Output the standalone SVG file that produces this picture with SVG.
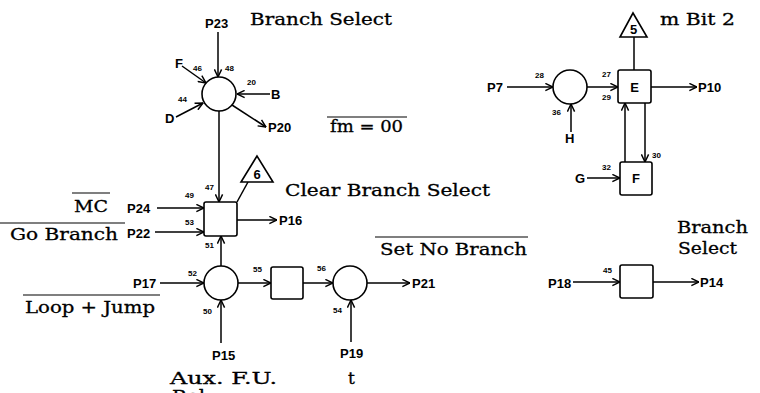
<svg xmlns="http://www.w3.org/2000/svg" width="760" height="393" viewBox="0 0 760 393">
<defs>
<marker id="arr" viewBox="0 0 10 10" refX="9.5" refY="5" markerWidth="9" markerHeight="9" markerUnits="userSpaceOnUse" orient="auto">
<path d="M1,1 L9.5,5 L1,9" fill="none" stroke="#000" stroke-width="1.6"/>
</marker>
</defs>
<style>
.ln{stroke:#000;stroke-width:1.5;fill:none}
.ar{marker-end:url(#arr)}
.nd{stroke:#000;stroke-width:1.6;fill:#fff}
.lb{font-family:"Liberation Sans",Arial,sans-serif;font-weight:bold;font-size:13px;fill:#000}
.sm{font-family:"Liberation Sans",Arial,sans-serif;font-weight:bold;font-size:8px;fill:#000}
.sr{font-family:"DejaVu Serif","Liberation Serif",serif;font-size:17px;fill:#000;stroke:#000;stroke-width:0.3}
.ov{stroke:#000;stroke-width:1.2}
</style>
<rect width="760" height="393" fill="#fff"/>
<g id="connectors">
<line class="ln ar" x1="218" y1="32" x2="218" y2="77"/>
<line class="ln ar" x1="182" y1="66" x2="206" y2="83"/>
<line class="ln ar" x1="270" y1="94" x2="237" y2="94"/>
<line class="ln ar" x1="176" y1="117" x2="203" y2="103"/>
<line class="ln ar" x1="232" y1="105" x2="266" y2="127"/>
<line class="ln ar" x1="219" y1="111" x2="219" y2="202"/>
<line class="ln ar" x1="157" y1="208" x2="204" y2="208"/>
<line class="ln ar" x1="155" y1="232" x2="204" y2="232"/>
<line class="ln ar" x1="237" y1="220" x2="277" y2="220"/>
<line class="ln" x1="248" y1="182" x2="237" y2="202"/>
<line class="ln ar" x1="221" y1="266" x2="221" y2="236"/>
<line class="ln ar" x1="160" y1="283" x2="204" y2="283"/>
<line class="ln ar" x1="221" y1="343" x2="221" y2="300"/>
<line class="ln ar" x1="238" y1="283" x2="271" y2="283"/>
<line class="ln ar" x1="303" y1="283" x2="333" y2="283"/>
<line class="ln ar" x1="367" y1="283" x2="410" y2="283"/>
<line class="ln ar" x1="351" y1="342" x2="351" y2="300"/>
<line class="ln ar" x1="507" y1="87" x2="553" y2="87"/>
<line class="ln ar" x1="587" y1="87" x2="618" y2="87"/>
<line class="ln ar" x1="571" y1="132" x2="571" y2="104"/>
<line class="ln ar" x1="651" y1="87" x2="697" y2="87"/>
<line class="ln" x1="634" y1="37" x2="634" y2="70"/>
<line class="ln ar" x1="625" y1="162" x2="625" y2="103"/>
<line class="ln ar" x1="645" y1="103" x2="645" y2="162"/>
<line class="ln ar" x1="587" y1="178" x2="620" y2="178"/>
<line class="ln ar" x1="573" y1="282" x2="620" y2="282"/>
<line class="ln ar" x1="653" y1="282" x2="699" y2="282"/>
</g>
<g id="branch-select-circle"><circle class="nd" cx="219" cy="94" r="17"/></g>
<g id="go-branch-box"><rect class="nd" x="204" y="202" width="33" height="34" rx="2"/></g>
<g id="tri-6"><polygon class="nd" points="257,156 241,182 273,182"/><text class="lb" x="257" y="179" text-anchor="middle" font-size="12">6</text></g>
<g id="loop-circle"><circle class="nd" cx="221" cy="283" r="17"/></g>
<g id="mid-box"><rect class="nd" x="271" y="267" width="32" height="32" rx="2"/></g>
<g id="no-branch-circle"><circle class="nd" cx="350" cy="283" r="17"/></g>
<g id="p7-circle"><circle class="nd" cx="570" cy="87" r="17"/></g>
<g id="box-E"><rect class="nd" x="618" y="70" width="33" height="33" rx="2"/><text class="lb" x="634.5" y="92" text-anchor="middle">E</text></g>
<g id="tri-5"><polygon class="nd" points="633,13 620,37 647,37"/><text class="lb" x="633.5" y="34" text-anchor="middle" font-size="12">5</text></g>
<g id="box-F"><rect class="nd" x="620" y="162" width="32" height="33" rx="2"/><text class="lb" x="636" y="183" text-anchor="middle">F</text></g>
<g id="box-P18"><rect class="nd" x="620" y="265" width="33" height="33" rx="2"/></g>
<g id="labels">
<text class="lb" x="205" y="28">P23</text>
<text class="lb" x="175" y="68">F</text>
<text class="lb" x="271" y="99">B</text>
<text class="lb" x="165" y="123">D</text>
<text class="lb" x="268" y="132">P20</text>
<text class="lb" x="127" y="213">P24</text>
<text class="lb" x="127" y="238">P22</text>
<text class="lb" x="279" y="225">P16</text>
<text class="lb" x="133" y="288">P17</text>
<text class="lb" x="212" y="360">P15</text>
<text class="lb" x="412" y="288">P21</text>
<text class="lb" x="340" y="358">P19</text>
<text class="lb" x="487" y="92">P7</text>
<text class="lb" x="565" y="143">H</text>
<text class="lb" x="698" y="92">P10</text>
<text class="lb" x="575" y="183">G</text>
<text class="lb" x="548" y="288">P18</text>
<text class="lb" x="700" y="287">P14</text>
<text class="sm" x="193" y="71">46</text>
<text class="sm" x="225" y="71">48</text>
<text class="sm" x="247" y="85" font-size="9">20</text>
<text class="sm" x="178" y="102">44</text>
<text class="sm" x="185" y="198">49</text>
<text class="sm" x="205" y="190">47</text>
<text class="sm" x="185" y="225">53</text>
<text class="sm" x="205" y="248">51</text>
<text class="sm" x="188" y="276">52</text>
<text class="sm" x="203" y="314">50</text>
<text class="sm" x="253" y="272">55</text>
<text class="sm" x="317" y="271">56</text>
<text class="sm" x="333" y="313">54</text>
<text class="sm" x="535" y="78">28</text>
<text class="sm" x="552" y="115">36</text>
<text class="sm" x="602" y="77">27</text>
<text class="sm" x="602" y="100">29</text>
<text class="sm" x="652" y="158" font-size="9">30</text>
<text class="sm" x="602" y="170">32</text>
<text class="sm" x="603" y="273">45</text>
<text class="sr" x="250" y="25" textLength="142" lengthAdjust="spacingAndGlyphs">Branch Select</text>
<text class="sr" x="330" y="132" textLength="73" lengthAdjust="spacingAndGlyphs">fm = 00</text>
<line class="ov" x1="327" y1="117" x2="407" y2="117"/>
<text class="sr" x="74" y="212" textLength="34" lengthAdjust="spacingAndGlyphs">MC</text>
<line class="ov" x1="72" y1="193" x2="110" y2="193"/>
<text class="sr" x="10" y="240" textLength="108" lengthAdjust="spacingAndGlyphs">Go Branch</text>
<line class="ov" x1="0" y1="223" x2="125" y2="223"/>
<text class="sr" x="285" y="196" textLength="205" lengthAdjust="spacingAndGlyphs">Clear Branch Select</text>
<text class="sr" x="380" y="255" textLength="147" lengthAdjust="spacingAndGlyphs">Set No Branch</text>
<line class="ov" x1="375" y1="237" x2="528" y2="237"/>
<text class="sr" x="25" y="313" textLength="130" lengthAdjust="spacingAndGlyphs">Loop + Jump</text>
<line class="ov" x1="23" y1="295" x2="160" y2="295"/>
<text class="sr" x="170" y="384" textLength="107" lengthAdjust="spacingAndGlyphs">Aux. F.U.</text>
<text class="sr" x="172" y="402" textLength="33" lengthAdjust="spacingAndGlyphs">Rel</text>
<text class="sr" x="348" y="384">t</text>
<text class="sr" x="660" y="25" textLength="75" lengthAdjust="spacingAndGlyphs">m Bit 2</text>
<text class="sr" x="677" y="233" textLength="71" lengthAdjust="spacingAndGlyphs">Branch</text>
<text class="sr" x="678" y="254" textLength="59" lengthAdjust="spacingAndGlyphs">Select</text>
</g>
</svg>
